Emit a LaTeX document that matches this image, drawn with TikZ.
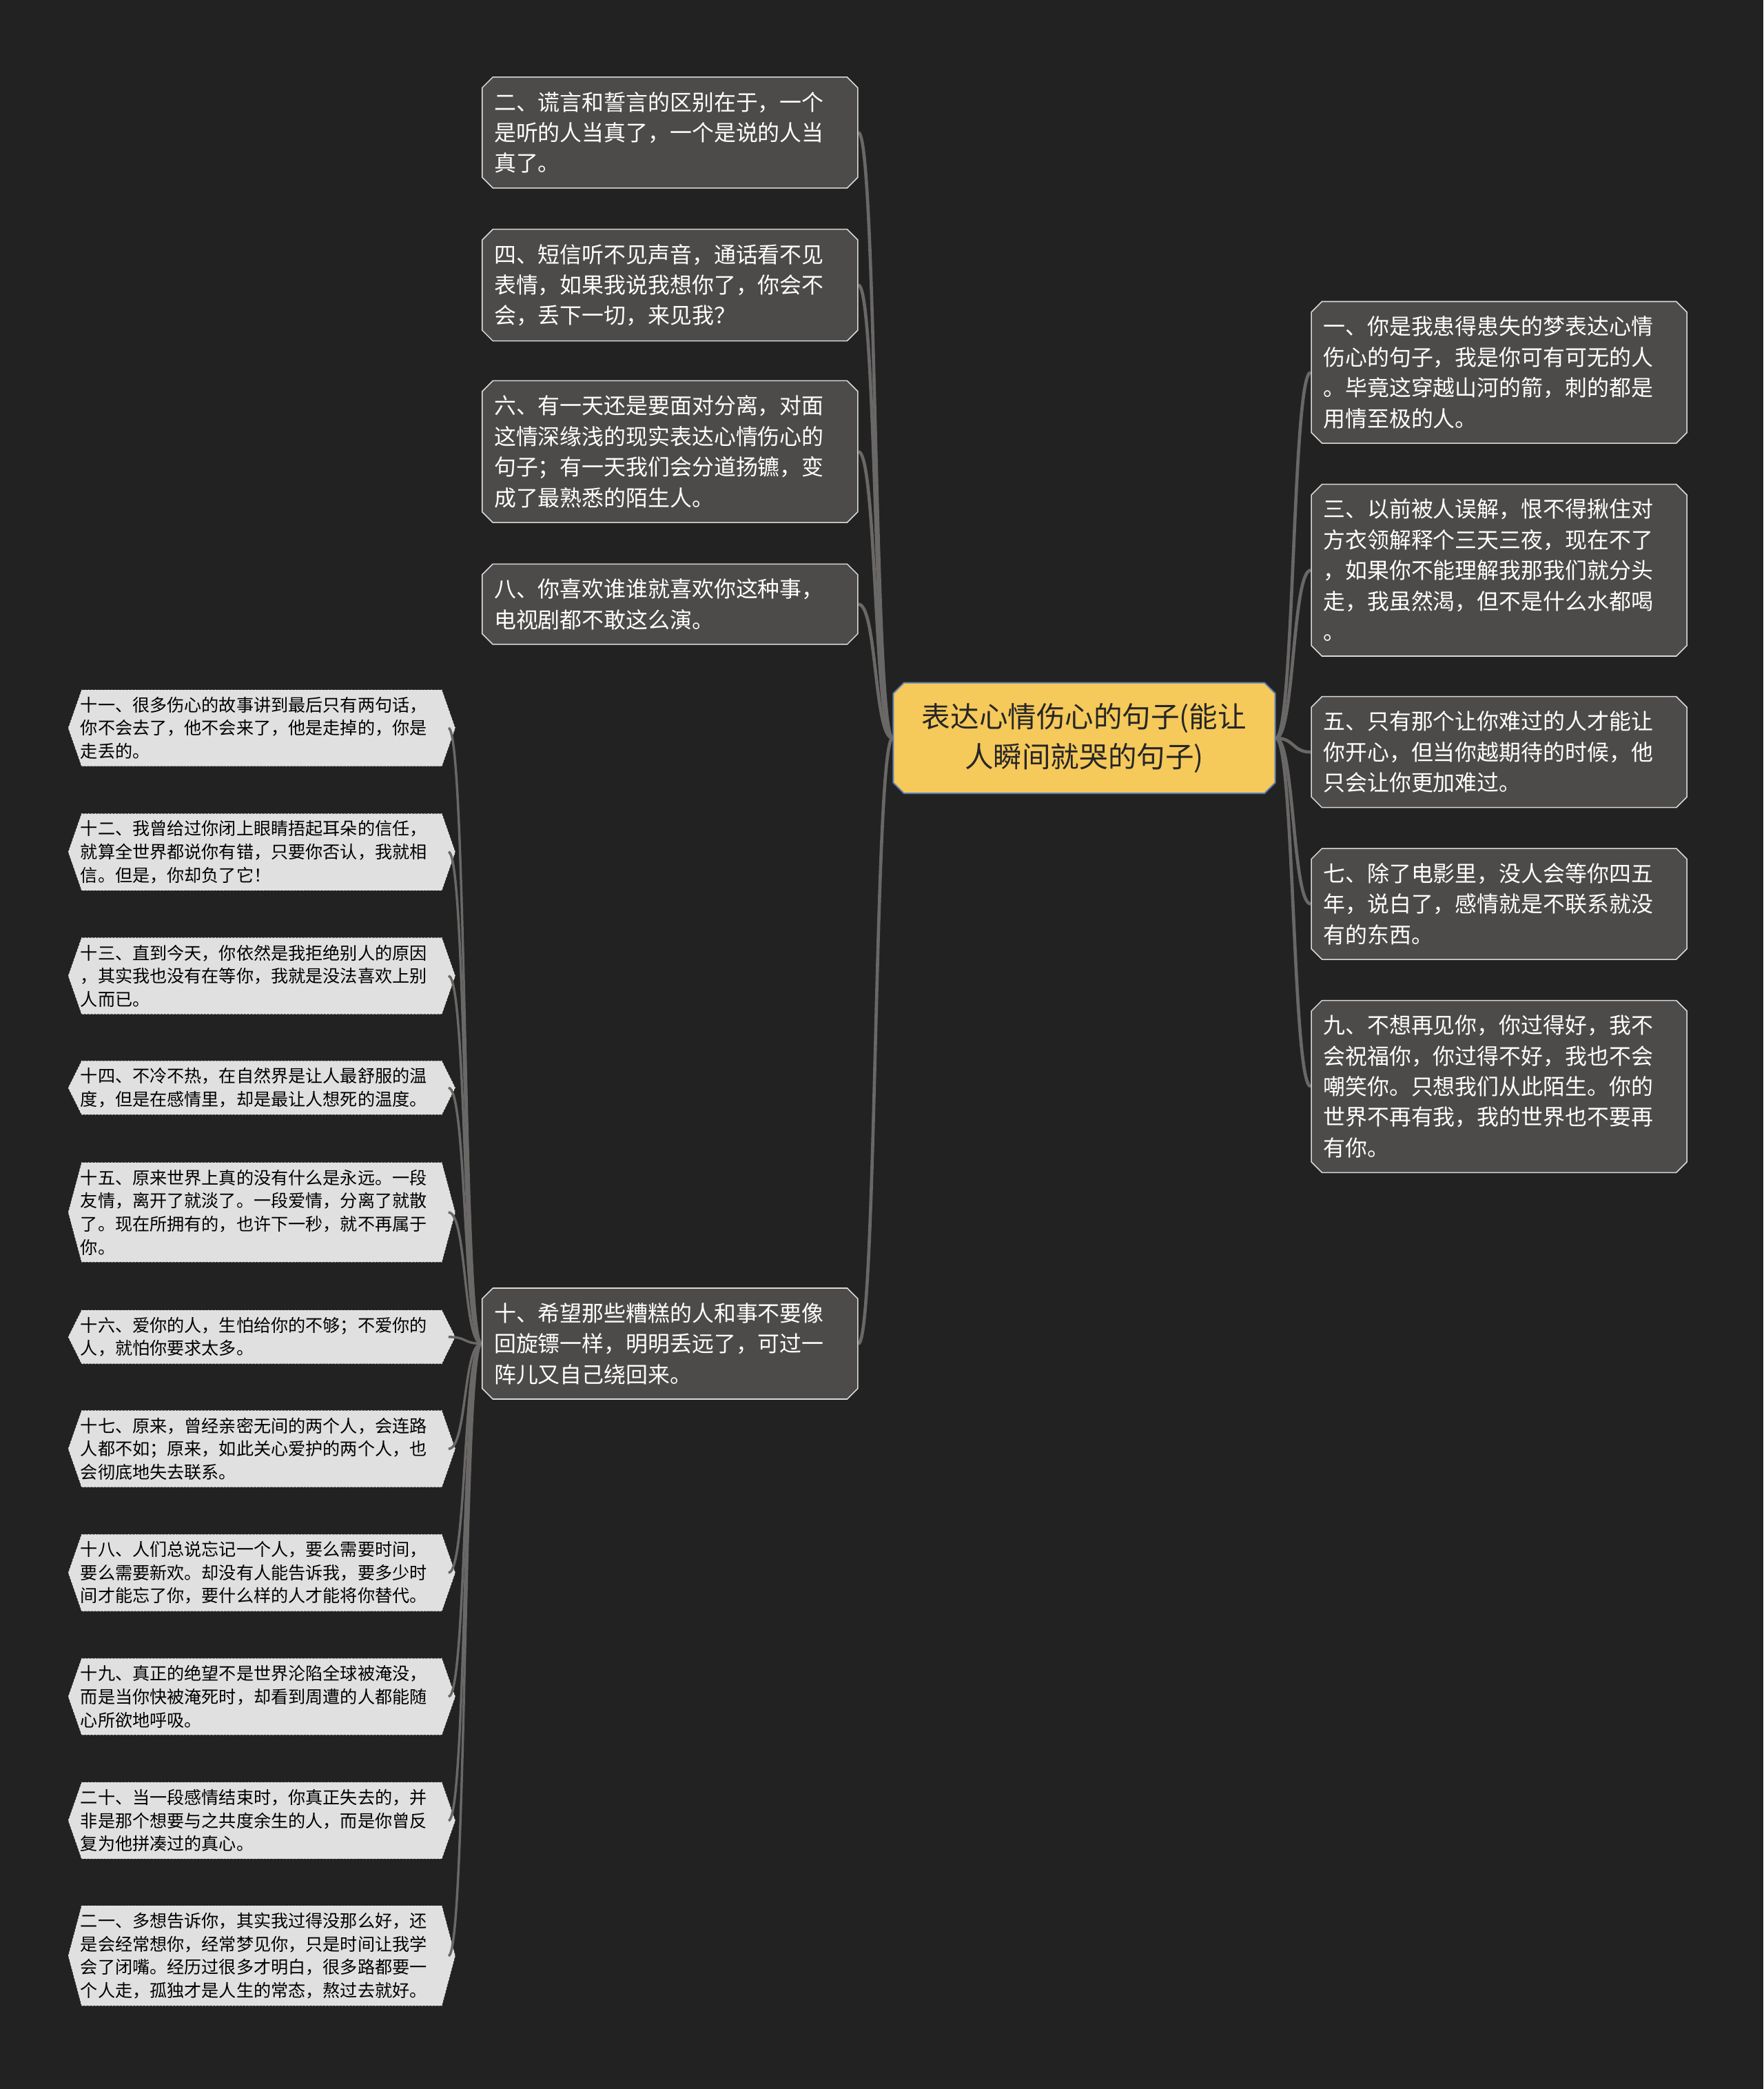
\documentclass[tikz,border=0pt]{standalone}
\usepackage{fontspec}
\setmainfont{Noto Sans CJK SC}
\usetikzlibrary{shapes.misc,backgrounds}
\definecolor{bgc}{HTML}{222222}
\definecolor{darkc}{HTML}{4D4B4A}
\definecolor{leafc}{HTML}{E0E0E0}
\definecolor{linec}{HTML}{6A6866}
\definecolor{rootc}{HTML}{F5C95A}
\definecolor{rootb}{HTML}{5B7FB5}
\tikzset{
  dnode/.style={chamfered rectangle,chamfered rectangle xsep=4pt,chamfered rectangle ysep=4pt,fill=darkc,draw=white!85!black,line width=0.8pt,text=white,align=left,text width=264pt,inner xsep=5pt,inner ysep=7pt,font=\fontsize{16.5}{23}\selectfont},
  lnode/.style={text=black,align=left,text width=272pt,inner xsep=4pt,inner ysep=5pt,font=\fontsize{13}{17.4}\selectfont},
  conn/.style={draw=linec,line width=2.4pt},
  rootn/.style={chamfered rectangle,chamfered rectangle xsep=4pt,chamfered rectangle ysep=4pt,fill=rootc,draw=rootb,line width=1pt,text=black!85,align=center,text width=272pt,minimum height=83pt,font=\fontsize{21.5}{30}\selectfont}
}
\newcommand\hexbg[1]{\fill[leafc,draw=white,line width=0.5pt,dotted] ([xshift=5pt]#1.north west) -- ([xshift=-5pt]#1.north east) -- ([xshift=5pt]#1.east) -- ([xshift=-5pt]#1.south east) -- ([xshift=5pt]#1.south west) -- ([xshift=-5pt]#1.west) -- cycle;}
\begin{document}
\begin{tikzpicture}[x=1pt,y=-1pt]
\useasboundingbox (0,0) rectangle (1324,1568);
\node[rootn] (root) at (814,554) {表达心情伤心的句子(能让\\人瞬间就哭的句子)};
% left dark
\node[dnode] (n2) at (503,99.5) {二、谎言和誓言的区别在于，一个\\是听的人当真了，一个是说的人当\\真了。};
\node[dnode] (n4) at (503,214) {四、短信听不见声音，通话看不见\\表情，如果我说我想你了，你会不\\会，丢下一切，来见我？};
\node[dnode] (n6) at (503,339) {六、有一天还是要面对分离，对面\\这情深缘浅的现实表达心情伤心的\\句子；有一天我们会分道扬镳，变\\成了最熟悉的陌生人。};
\node[dnode] (n8) at (503,453.5) {八、你喜欢谁谁就喜欢你这种事，\\电视剧都不敢这么演。};
\node[dnode] (n10) at (503,1008.5) {十、希望那些糟糕的人和事不要像\\回旋镖一样，明明丢远了，可过一\\阵儿又自己绕回来。};
% right dark
\node[dnode] (n1) at (1125.5,279.5) {一、你是我患得患失的梦表达心情\\伤心的句子，我是你可有可无的人\\。毕竟这穿越山河的箭，刺的都是\\用情至极的人。};
\node[dnode] (n3) at (1125.5,428) {三、以前被人误解，恨不得揪住对\\方衣领解释个三天三夜，现在不了\\，如果你不能理解我那我们就分头\\走，我虽然渴，但不是什么水都喝\\。};
\node[dnode] (n5) at (1125.5,564.5) {五、只有那个让你难过的人才能让\\你开心，但当你越期待的时候，他\\只会让你更加难过。};
\node[dnode] (n7) at (1125.5,678.5) {七、除了电影里，没人会等你四五\\年，说白了，感情就是不联系就没\\有的东西。};
\node[dnode] (n9) at (1125.5,815.5) {九、不想再见你，你过得好，我不\\会祝福你，你过得不好，我也不会\\嘲笑你。只想我们从此陌生。你的\\世界不再有我，我的世界也不要再\\有你。};
% leaves
\node[lnode] (l11) at (196.5,546.5) {十一、很多伤心的故事讲到最后只有两句话，\\你不会去了，他不会来了，他是走掉的，你是\\走丢的。};
\node[lnode] (l12) at (196.5,639.5) {十二、我曾给过你闭上眼睛捂起耳朵的信任，\\就算全世界都说你有错，只要你否认，我就相\\信。但是，你却负了它！};
\node[lnode] (l13) at (196.5,732.5) {十三、直到今天，你依然是我拒绝别人的原因\\，其实我也没有在等你，我就是没法喜欢上别\\人而已。};
\node[lnode] (l14) at (196.5,816.5) {十四、不冷不热，在自然界是让人最舒服的温\\度，但是在感情里，却是最让人想死的温度。};
\node[lnode] (l15) at (196.5,910) {十五、原来世界上真的没有什么是永远。一段\\友情，离开了就淡了。一段爱情，分离了就散\\了。现在所拥有的，也许下一秒，就不再属于\\你。};
\node[lnode] (l16) at (196.5,1003.5) {十六、爱你的人，生怕给你的不够；不爱你的\\人，就怕你要求太多。};
\node[lnode] (l17) at (196.5,1087.5) {十七、原来，曾经亲密无间的两个人，会连路\\人都不如；原来，如此关心爱护的两个人，也\\会彻底地失去联系。};
\node[lnode] (l18) at (196.5,1180.5) {十八、人们总说忘记一个人，要么需要时间，\\要么需要新欢。却没有人能告诉我，要多少时\\间才能忘了你，要什么样的人才能将你替代。};
\node[lnode] (l19) at (196.5,1273.5) {十九、真正的绝望不是世界沦陷全球被淹没，\\而是当你快被淹死时，却看到周遭的人都能随\\心所欲地呼吸。};
\node[lnode] (l20) at (196.5,1366.5) {二十、当一段感情结束时，你真正失去的，并\\非是那个想要与之共度余生的人，而是你曾反\\复为他拼凑过的真心。};
\node[lnode] (l21) at (196.5,1468) {二一、多想告诉你，其实我过得没那么好，还\\是会经常想你，经常梦见你，只是时间让我学\\会了闭嘴。经历过很多才明白，很多路都要一\\个人走，孤独才是人生的常态，熬过去就好。};
\begin{pgfonlayer}{background}
\fill[bgc] (0,0) rectangle (1324,1568);
\foreach \l in {l11,l12,l13,l14,l15,l16,l17,l18,l19,l20,l21}{\hexbg{\l}}
\foreach \n in {n2,n4,n6,n8,n10}{\draw[conn] (root.west) .. controls +(-14,0) and +(14,0) .. (\n.east);}
\foreach \n in {n1,n3,n5,n7,n9}{\draw[conn] (root.east) .. controls +(14,0) and +(-14,0) .. (\n.west);}
\foreach \l in {l11,l12,l13,l14,l15,l16,l17,l18,l19,l20,l21}{\draw[conn,line width=1.8pt] (n10.west) .. controls +(-14,0) and +(14,0) .. (\l.east);}
\end{pgfonlayer}
\end{tikzpicture}
\end{document}
